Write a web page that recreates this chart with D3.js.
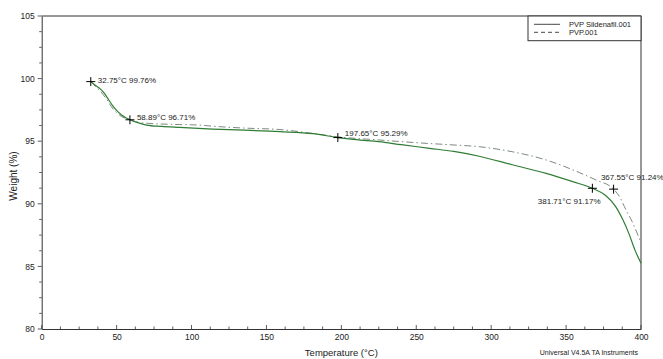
<!DOCTYPE html>
<html><head><meta charset="utf-8">
<script src="https://cdn.jsdelivr.net/npm/d3@7"></script>
<style>body{margin:0;background:#fff}svg{display:block;font-family:"Liberation Sans",Arial,sans-serif}</style>
</head><body><svg id="c" width="663" height="359"></svg>
<script>
// Data
const solidTemp = [32.75,36,38.9,42,45,47.8,53.3,58.89,65,70,80,92,114,135,159,181,197.65,210,225,240,259,275,292,314,336.7,354.4,367.55,376,383,388,392,396,400];
const solidWeight = [99.76,99.45,99.2,98.8,98.25,97.76,97.09,96.71,96.45,96.29,96.18,96.1,95.97,95.88,95.76,95.6,95.29,95.12,94.96,94.72,94.43,94.18,93.8,93.12,92.43,91.77,91.24,90.7,89.8,88.7,87.6,86.3,85.25];
const dashTemp = [32.75,36,38.9,43,47.8,53,58.89,65,75,92,105,114,135,159,181,197.65,225,250,272,292,314,336.7,358.9,370,381.71,386,390,394,398.4,400];
const dashWeight = [99.76,99.35,99.03,98.4,97.55,97.0,96.71,96.5,96.4,96.33,96.29,96.2,96.05,95.93,95.62,95.35,95.1,94.88,94.72,94.56,94.16,93.5,92.49,91.9,91.17,90.5,89.5,88.6,87.37,86.9];
const seriesNames = ["PVP Sildenafil.001","PVP.001"];
const markTemp = [32.75,58.89,197.65,367.55,381.71];
const markWeight = [99.76,96.71,95.29,91.24,91.17];
const markLabels = ["32.75°C 99.76%","58.89°C 96.71%","197.65°C 95.29%","367.55°C 91.24%","381.71°C 91.17%"];
const xTicks = [0,50,100,150,200,250,300,350,400];
const yTicks = [80,85,90,95,100,105];

const svg = d3.select("#c");
const L=41.7, R=641, T=16, B=329;
const x = d3.scaleLinear().domain([0,400]).range([L,R]);
const y = d3.scaleLinear().domain([80,105]).range([B,T]);
const axisCol="#333";

// minor ticks
const g = svg.append("g");
d3.range(0,400.01,12.5).forEach(v=>{
  const major = v%50===0;
  g.append("line").attr("x1",x(v)).attr("x2",x(v)).attr("y1",B).attr("y2",B-(major?4:2.5)).attr("stroke",axisCol).attr("stroke-width",0.8);
});
d3.range(80,105.01,1.25).forEach(v=>{
  const major = v%5===0;
  g.append("line").attr("y1",y(v)).attr("y2",y(v)).attr("x1",L).attr("x2",L-(major?4:2.5)).attr("stroke",axisCol).attr("stroke-width",0.8);
});

// axes
const xa = svg.append("g").attr("transform",`translate(0,${B})`)
  .call(d3.axisBottom(x).tickValues(xTicks).tickSize(0).tickPadding(5).tickFormat(d3.format("d")));
const ya = svg.append("g").attr("transform",`translate(${L},0)`)
  .call(d3.axisLeft(y).tickValues(yTicks).tickSize(0).tickPadding(7).tickFormat(d3.format("d")));
[xa,ya].forEach(a=>{a.select(".domain").attr("stroke",axisCol).attr("stroke-width",1);
  a.selectAll("text").attr("font-size","8.5px").attr("fill","#222").attr("font-family","Liberation Sans, Arial, sans-serif");});
// frame
svg.append("line").attr("x1",L).attr("x2",R).attr("y1",T).attr("y2",T).attr("stroke",axisCol);
svg.append("line").attr("x1",R).attr("x2",R).attr("y1",T).attr("y2",B).attr("stroke",axisCol);

// curves
const line = d3.line().x(d=>x(d[0])).y(d=>y(d[1])).curve(d3.curveMonotoneX);
const dashData = dashTemp.map((t,i)=>[t,dashWeight[i]]);
const solidData = solidTemp.map((t,i)=>[t,solidWeight[i]]);
svg.append("path").datum(dashData).attr("d",line).attr("fill","none")
  .attr("stroke","#6e7d6e").attr("stroke-width",0.9).attr("stroke-dasharray","7,3,1.5,3");
svg.append("path").datum(solidData).attr("d",line).attr("fill","none")
  .attr("stroke","#2f7d35").attr("stroke-width",1.2);

// markers
const offs = [[7,1,"start"],[7,0,"start"],[7,-2,"start"],[8.5,-8,"start"],[-13,15,"end"]];
markTemp.forEach((t,i)=>{
  const px=x(t), py=y(markWeight[i]);
  svg.append("line").attr("x1",px-4.5).attr("x2",px+4.5).attr("y1",py).attr("y2",py).attr("stroke","#000").attr("stroke-width",1);
  svg.append("line").attr("x1",px).attr("x2",px).attr("y1",py-4.5).attr("y2",py+4.5).attr("stroke","#000").attr("stroke-width",1);
  svg.append("text").attr("x",px+offs[i][0]).attr("y",py+offs[i][1]).attr("text-anchor",offs[i][2])
    .attr("font-size","8px").attr("fill","#222").text(markLabels[i]);
});

// legend
const lx0=528, ly1=40.7;
svg.append("rect").attr("x",lx0).attr("y",T).attr("width",R-lx0).attr("height",ly1-T).attr("fill","#fff").attr("stroke",axisCol).attr("stroke-width",1);
const legY=[24.3,32.3];
seriesNames.forEach((n,i)=>{
  svg.append("line").attr("x1",534).attr("x2",560).attr("y1",legY[i]).attr("y2",legY[i])
    .attr("stroke","#333").attr("stroke-width",0.9).attr("stroke-dasharray",i?"4,3":null);
  svg.append("text").attr("x",569).attr("y",legY[i]).attr("dy","0.35em").attr("font-size","7.5px").attr("fill","#222").text(n);
});

// labels
svg.append("text").attr("x",(L+R)/2).attr("y",356).attr("text-anchor","middle").attr("font-size","9.5px").attr("fill","#222").text("Temperature (°C)");
svg.append("text").attr("transform","translate(13,176) rotate(-90)").attr("text-anchor","middle").attr("dy","0.35em").attr("font-size","10px").attr("fill","#222").text("Weight (%)");
svg.append("text").attr("x",638).attr("y",355).attr("text-anchor","end").attr("font-size","7px").attr("fill","#222").text("Universal V4.5A TA Instruments");
</script></body></html>
